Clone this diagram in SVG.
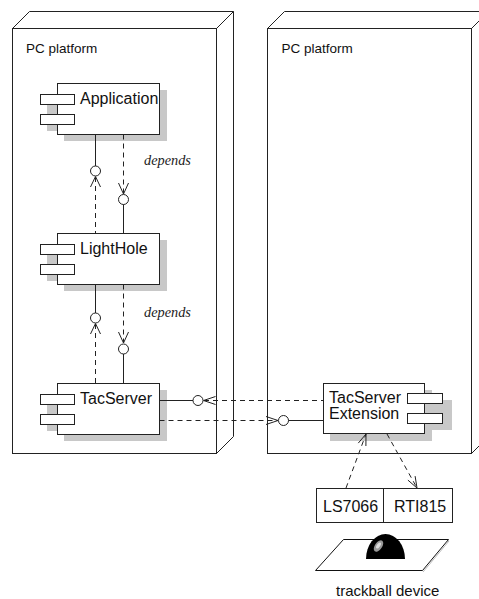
<svg xmlns="http://www.w3.org/2000/svg" width="479" height="599" viewBox="0 0 479 599">
  <style>
    .edge { fill: none; stroke: #222; stroke-width: 1; }
    .box { fill: #fff; stroke: #222; stroke-width: 1; }
    .shadow { fill: #c8c8c8; stroke: none; }
    .dash { fill: none; stroke: #222; stroke-width: 1; stroke-dasharray: 5 4; }
    .line { fill: none; stroke: #222; stroke-width: 1; }
    .iface { fill: #fff; stroke: #222; stroke-width: 1; }
    .head { fill: none; stroke: #222; stroke-width: 1; }
    .title { font-family: "Liberation Sans", Arial, sans-serif; font-size: 13.5px; fill: #111; }
    .label { font-family: "Liberation Sans", Arial, sans-serif; font-size: 16px; fill: #111; }
    .stereo { font-family: "Liberation Serif", "Times New Roman", serif; font-style: italic; font-size: 14.3px; fill: #222; }
  </style>
  <defs>
    <!-- component symbol with left-side tabs, origin at body top-left -->
    <g id="comp-left">
      <rect class="shadow" x="6.5" y="6.5" width="103" height="51"/>
      <rect class="shadow" x="-10.5" y="17.5" width="17" height="30"/>
      <rect class="box" x="0" y="0" width="102" height="51"/>
      <rect class="box" x="-17" y="11" width="34" height="10"/>
      <rect class="box" x="-17" y="31" width="34" height="10"/>
    </g>
  </defs>

  <rect width="479" height="599" fill="#fff"/>

  <!-- left deployment node -->
  <g id="node-pc-left">
    <path class="edge" d="M12.5,28.5 L29.5,11.5 H233.5 V436.5 L216.5,453.5 M216.5,28.5 L233.5,11.5"/>
    <rect class="edge" x="12.5" y="28.5" width="204" height="425"/>
    <text class="title" x="26" y="53">PC platform</text>
  </g>

  <!-- right deployment node -->
  <g id="node-pc-right">
    <path class="edge" d="M267.5,28.5 L284.5,11.5 H488.5 V436.5 L471.5,453.5 M471.5,28.5 L488.5,11.5"/>
    <rect class="edge" x="267.5" y="28.5" width="204" height="425"/>
    <text class="title" x="281.5" y="53">PC platform</text>
  </g>

  <!-- components -->
  <g id="comp-application">
    <use href="#comp-left" x="57.5" y="83.5"/>
    <text class="label" x="80" y="104">Application</text>
  </g>
  <g id="comp-lighthole">
    <use href="#comp-left" x="57.5" y="233.5"/>
    <text class="label" x="80" y="253.5">LightHole</text>
  </g>
  <g id="comp-tacserver">
    <use href="#comp-left" x="57.5" y="383.5"/>
    <text class="label" x="80" y="403.5">TacServer</text>
  </g>
  <g id="comp-tacserver-ext">
    <rect class="shadow" x="330" y="390" width="102" height="51"/>
    <rect class="shadow" x="431" y="400" width="21" height="30"/>
    <rect class="box" x="323.5" y="383.5" width="101" height="50"/>
    <rect class="box" x="407.5" y="393.5" width="35" height="10"/>
    <rect class="box" x="407.5" y="413.5" width="35" height="10"/>
    <text class="label" x="329" y="403">TacServer</text>
    <text class="label" x="329" y="419">Extension</text>
  </g>

  <!-- interface boards -->
  <g id="board-ls7066">
    <rect class="box" x="316.5" y="488.5" width="67" height="34"/>
    <text class="label" x="323" y="512">LS7066</text>
  </g>
  <g id="board-rti815">
    <rect class="box" x="383.5" y="488.5" width="69" height="34"/>
    <text class="label" x="394" y="512">RTI815</text>
  </g>

  <!-- trackball device -->
  <g id="trackball">
    <path d="M344,541 L449,541 L423,572" fill="none" stroke="#bbb" stroke-width="1"/>
    <path d="M343.5,539.5 L448.5,539.5 L422.5,570.5 L315.5,570.5 Z" fill="#fff" stroke="#111" stroke-width="1"/>
    <path d="M366,559 A19.5,25 0 0 1 405,559 Z" fill="#000"/>
    <ellipse cx="378.5" cy="546" rx="3.6" ry="6.5" transform="rotate(35 378.5 546)" fill="#999"/>
    <ellipse cx="378.5" cy="545.5" rx="1.6" ry="3.5" transform="rotate(35 378.5 545.5)" fill="#ddd"/>
    <text class="title" style="font-size:15px" x="336" y="596">trackball device</text>
  </g>

  <!-- connectors -->
  <g id="connectors">
    <!-- Application / LightHole -->
    <line class="line" x1="95.5" y1="134.5" x2="95.5" y2="166"/>
    <circle class="iface" cx="95.5" cy="171" r="5"/>
    <line class="dash" x1="95.5" y1="177" x2="95.5" y2="233.5"/>
    <polyline class="head" points="90.5,187 95.5,176.5 100.5,187"/>
    <line class="dash" x1="123.5" y1="134.5" x2="123.5" y2="194"/>
    <polyline class="head" points="118.5,183 123.5,194 128.5,183"/>
    <circle class="iface" cx="123.5" cy="199.5" r="5"/>
    <line class="line" x1="123.5" y1="204.5" x2="123.5" y2="233.5"/>
    <text class="stereo" x="144" y="165">depends</text>

    <!-- LightHole / TacServer -->
    <line class="line" x1="95.5" y1="284.5" x2="95.5" y2="313"/>
    <circle class="iface" cx="95.5" cy="318" r="5"/>
    <line class="dash" x1="95.5" y1="324" x2="95.5" y2="383.5"/>
    <polyline class="head" points="90.5,334 95.5,323.5 100.5,334"/>
    <line class="dash" x1="123.5" y1="284.5" x2="123.5" y2="343"/>
    <polyline class="head" points="118.5,332 123.5,343 128.5,332"/>
    <circle class="iface" cx="123.5" cy="349" r="5"/>
    <line class="line" x1="123.5" y1="354" x2="123.5" y2="383.5"/>
    <text class="stereo" x="144" y="317">depends</text>

    <!-- TacServer / TacServer Extension -->
    <line class="line" x1="159.5" y1="400.5" x2="193" y2="400.5"/>
    <circle class="iface" cx="198" cy="400.5" r="5"/>
    <line class="dash" x1="204" y1="400.5" x2="323.5" y2="400.5"/>
    <polyline class="head" points="215.5,396.5 203.5,400.5 215.5,404.5"/>
    <line class="dash" x1="159.5" y1="420.5" x2="278" y2="420.5"/>
    <polyline class="head" points="266,416.5 278,420.5 266,424.5"/>
    <circle class="iface" cx="283.5" cy="420.5" r="5"/>
    <line class="line" x1="288.5" y1="420.5" x2="323.5" y2="420.5"/>

    <!-- TacServer Extension / boards -->
    <line class="dash" x1="346" y1="488" x2="366" y2="434"/>
    <polyline class="head" points="358.3,443.1 366,434 365.9,446"/>
    <line class="dash" x1="387" y1="434" x2="417" y2="488"/>
    <polyline class="head" points="415.1,476.1 417,488 407.9,480.1"/>
  </g>
</svg>
